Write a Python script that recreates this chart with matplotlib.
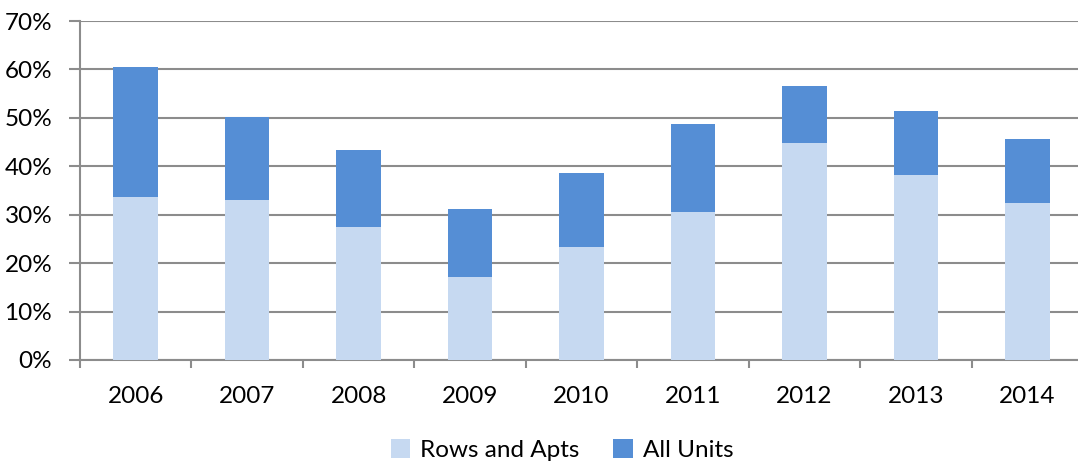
import matplotlib.pyplot as plt
from matplotlib.ticker import PercentFormatter

years = ["2006", "2007", "2008", "2009", "2010", "2011", "2012", "2013", "2014"]
rows_apts = [33.7, 33.0, 27.5, 17.1, 23.3, 30.6, 44.8, 38.3, 32.4]
all_units = [60.5, 50.1, 43.4, 31.2, 38.6, 48.8, 56.6, 51.4, 45.6]

light = "#C6D9F1"
dark = "#558ED5"
gray = "#8C8C8C"

plt.rcParams["font.family"] = ["Lato", "DejaVu Sans"]

fig = plt.figure(figsize=(10.78, 4.62), dpi=100)
ax = fig.add_axes([80 / 1078, 102 / 462, 1003 / 1078, 339 / 462])

x = range(len(years))
ax.bar(x, all_units, width=0.4, color=dark, label="All Units", zorder=2)
ax.bar(x, rows_apts, width=0.4, color=light, label="Rows and Apts", zorder=3)

ax.set_xlim(-0.5, len(years) - 0.5)
ax.set_ylim(0, 70)
ax.set_yticks(range(0, 71, 10))
ax.yaxis.set_major_formatter(PercentFormatter(decimals=0))
ax.yaxis.grid(True, color=gray, linewidth=1.5, zorder=0)
ax.set_axisbelow(True)

ax.set_xticks([i for i in x])
ax.set_xticklabels(years)
ax.set_xticks([i - 0.5 for i in range(len(years) + 1)], minor=True)
ax.tick_params(axis="x", which="major", length=0, pad=19, labelsize=17.5)
ax.tick_params(axis="x", which="minor", length=6, width=1.5, color=gray, direction="out")
ax.tick_params(axis="y", length=8, width=1.5, color=gray, pad=12, labelsize=17.5)

for side in ["top", "right"]:
    ax.spines[side].set_visible(False)
for side in ["left", "bottom"]:
    ax.spines[side].set_color(gray)
    ax.spines[side].set_linewidth(1.5)

handles, labels = ax.get_legend_handles_labels()
fig.legend(handles[::-1], labels[::-1], loc="center", bbox_to_anchor=(562 / 1078, 12 / 462),
           ncol=2, frameon=False, fontsize=17.5, handlelength=0.8, handleheight=0.8,
           handletextpad=0.4, columnspacing=1.4)

fig.savefig("out.png", dpi=100)
